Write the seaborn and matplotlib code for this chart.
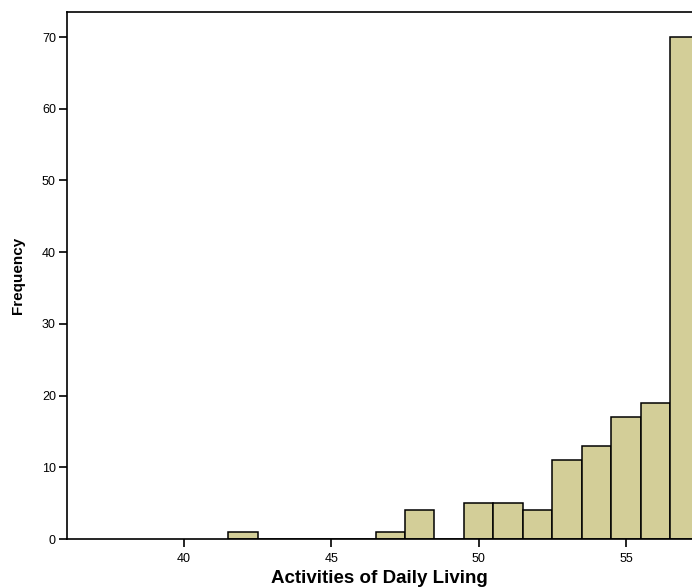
import matplotlib
matplotlib.use('Agg')
import matplotlib.pyplot as plt
import seaborn as sns

# Score values (bin centres) and their frequencies
scores = [42, 47, 48, 50, 51, 52, 53, 54, 55, 56, 57]
counts = [1, 1, 4, 5, 5, 4, 11, 13, 17, 19, 70]

sns.set_style('white')
plt.rcParams['font.family'] = ['Liberation Sans', 'DejaVu Sans']

fig = plt.figure(figsize=(6.92, 5.88), dpi=100)
ax = fig.add_axes([67 / 692, 49 / 588, 625 / 692, 527 / 588])

sns.histplot(x=scores, weights=counts, discrete=True, ax=ax,
             color='#D3CE98', alpha=1, edgecolor='black', linewidth=1.1)

ax.set_xlim(36.03, 57.24)
ax.set_ylim(0, 73.5)
ax.set_xticks([40, 45, 50, 55])
ax.set_yticks([0, 10, 20, 30, 40, 50, 60, 70])
ax.tick_params(axis='both', direction='out', length=6, width=1.2,
               labelsize=9, colors='black', bottom=True, left=True)
ax.tick_params(axis='x', pad=4)
ax.tick_params(axis='y', pad=2)
for side in ['left', 'top', 'bottom']:
    ax.spines[side].set_color('black')
    ax.spines[side].set_linewidth(1.2)
ax.spines['right'].set_visible(False)

ax.set_xlabel('Activities of Daily Living', fontsize=13.5, fontweight='bold',
              color='black', labelpad=4)
ax.set_ylabel('Frequency', fontsize=11, fontweight='bold', color='black', labelpad=12)

plt.savefig('out.png', dpi=100)
